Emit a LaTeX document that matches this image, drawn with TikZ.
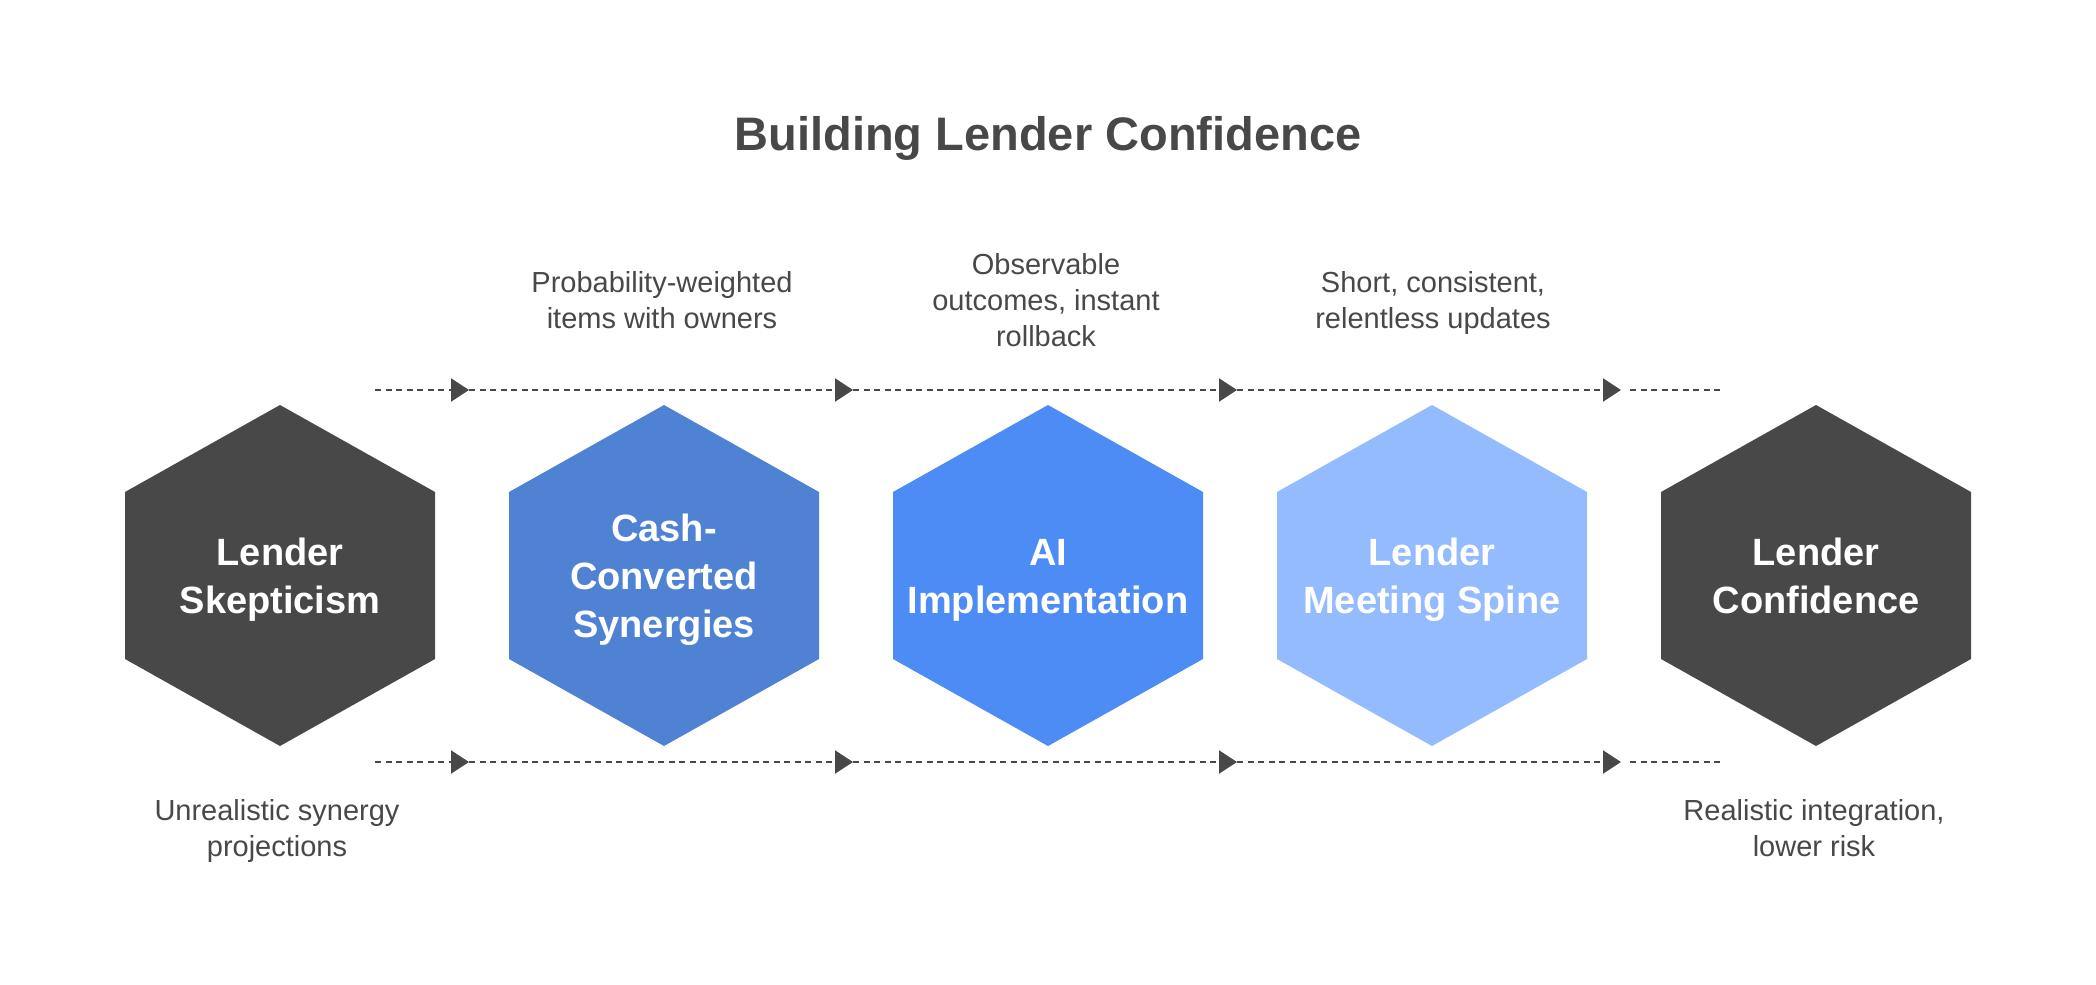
\documentclass[tikz,border=0pt]{standalone}
\usepackage{fontspec}
\setmainfont{Liberation Sans}
\usetikzlibrary{arrows.meta}
\definecolor{darkhex}{HTML}{484848}
\definecolor{blueA}{HTML}{5082D4}
\definecolor{blueB}{HTML}{4D8BF5}
\definecolor{blueC}{HTML}{94BBFD}
\definecolor{txt}{HTML}{484848}
\newcommand\hexshape[2]{\fill[#2] (#1,405) -- (#1+155,492) -- (#1+155,659) -- (#1,746) -- (#1-155,659) -- (#1-155,492) -- cycle;}
\begin{document}
\begin{tikzpicture}[x=0.5pt,y=-0.5pt,
  hexlabel/.style={text=white, font=\fontsize{19}{24}\selectfont\bfseries, align=center, inner sep=0pt},
  desc/.style={text=txt, font=\fontsize{14.5}{18}\selectfont, align=center, inner sep=0pt},
  flow/.style={draw=txt, line width=1pt, dash pattern=on 3pt off 2.25pt},
  tipflow/.style={flow, -{Triangle[length=9pt,width=11.5pt]}}]
\path[use as bounding box] (0,0) rectangle (2096,984);
\fill[white] (0,0) rectangle (2096,984);

\node[text=txt, font=\fontsize{23.5}{28}\selectfont\bfseries] (title) at (1048,138) {Building Lender Confidence};

% flow lines
\foreach \row/\yy in {t/390, b/762} {
  \coordinate (\row0) at (375,\yy);
  \coordinate (\row1) at (469,\yy);
  \coordinate (\row2) at (853,\yy);
  \coordinate (\row3) at (1237,\yy);
  \coordinate (\row4) at (1621,\yy);
  \coordinate (\row5) at (1721,\yy);
  \draw[tipflow] (\row0) -- (\row1);
  \draw[tipflow] (\row1) -- (\row2);
  \draw[tipflow] (\row2) -- (\row3);
  \draw[tipflow] (\row3) -- (\row4);
  \draw[flow] (\row4) ++(9,0) -- (\row5);
}

% hexagons
\hexshape{280}{darkhex}
\hexshape{664}{blueA}
\hexshape{1048}{blueB}
\hexshape{1432}{blueC}
\hexshape{1816}{darkhex}

\node[hexlabel] (h1) at (280,580) {\strut Lender\\Skepticism\strut};
\node[hexlabel] (h2) at (664,580) {\strut Cash-\\Converted\\Synergies\strut};
\node[hexlabel] (h3) at (1048,580) {\strut AI\\Implementation\strut};
\node[hexlabel] (h4) at (1432,580) {\strut Lender\\Meeting Spine\strut};
\node[hexlabel] (h5) at (1816,580) {\strut Lender\\Confidence\strut};

% descriptions
\node[desc] (d2) at (662,303) {\strut Probability-weighted\\items with owners\strut};
\node[desc] (d3) at (1046,303) {\strut Observable\\outcomes, instant\\rollback\strut};
\node[desc] (d4) at (1433,303) {\strut Short, consistent,\\relentless updates\strut};
\node[desc] (d1) at (277,831) {\strut Unrealistic synergy\\projections\strut};
\node[desc] (d5) at (1814,831) {\strut Realistic integration,\\lower risk\strut};
\end{tikzpicture}
\end{document}
